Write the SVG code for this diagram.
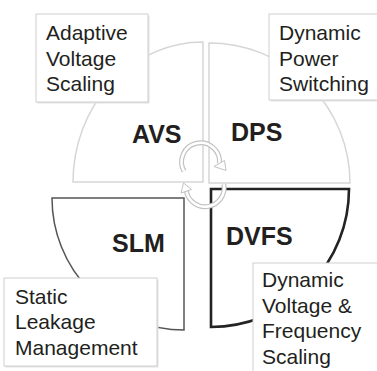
<svg xmlns="http://www.w3.org/2000/svg" width="377" height="371" viewBox="0 0 377 371">
<style>
.light{fill:#fff;stroke:#d6d6d6;stroke-width:1.5}
.slm{fill:#fff;stroke:#555;stroke-width:1.5}
.dvfs{fill:#fff;stroke:#232323;stroke-width:2.6}
.lbl{font-family:"Liberation Sans",Arial,sans-serif;font-weight:bold;font-size:25px;fill:#231f20}
.txt{font-family:"Liberation Sans",Arial,sans-serif;font-size:21px;fill:#231f20}
.box{fill:#fff;stroke:#cfcfcf;stroke-width:1}
.shadow{fill:#e2e2e2}
.band-o{fill:none;stroke:#c2c2c2;stroke-width:5}
.band-i{fill:none;stroke:#fff;stroke-width:2.6}
.head{fill:#fff;stroke:#c2c2c2;stroke-width:1}
</style>
<rect width="377" height="371" fill="#fff"/>
<g id="node-avs">
<path class="light" d="M203,182 L73,182 A130,140 0 0 1 203,42 Z"/>
<text class="lbl" x="132" y="143">AVS</text>
</g>
<g id="node-dps">
<path class="light" d="M209,183 L209,43 A141,140 0 0 1 350,183 Z"/>
<text class="lbl" x="231" y="141">DPS</text>
</g>
<g id="node-slm">
<path class="slm" d="M184,198 L52,198 A132,132 0 0 0 184,330 Z"/>
<text class="lbl" x="112" y="252">SLM</text>
</g>
<g id="node-dvfs">
<path class="dvfs" d="M211,189 L349,189 A138,138 0 0 1 211,327 Z"/>
<text class="lbl" x="226" y="245">DVFS</text>
</g>
<g id="connectors">
<path class="band-o" d="M184.1,171.3 A19,19 0 1 1 219.5,163.5"/>
<path class="band-i" d="M184.1,171.3 A19,19 0 1 1 219.5,163.5"/>
<polygon class="head" points="214,166.5 224.5,160.5 226,170.5"/>
<path class="band-o" d="M223.9,184.3 A19,19 0 1 1 186.3,190.9"/>
<path class="band-i" d="M223.9,184.3 A19,19 0 1 1 186.3,190.9"/>
<polygon class="head" points="181,193 191.5,189.5 183.5,183"/>
</g>
<g id="box-avs">
<rect class="shadow" x="37.5" y="15.5" width="112" height="88"/>
<rect class="box" x="36" y="14" width="112" height="88"/>
<text class="txt" x="46" y="40">Adaptive</text>
<text class="txt" x="46" y="65.5">Voltage</text>
<text class="txt" x="46" y="91">Scaling</text>
</g>
<g id="box-dps">
<rect class="shadow" x="270.5" y="15.5" width="120" height="86"/>
<rect class="box" x="269" y="14" width="120" height="86"/>
<text class="txt" x="279" y="40">Dynamic</text>
<text class="txt" x="279" y="65.5">Power</text>
<text class="txt" x="279" y="91">Switching</text>
</g>
<g id="box-slm">
<rect class="shadow" x="5.5" y="279.5" width="153" height="88"/>
<rect class="box" x="4" y="278" width="153" height="88"/>
<text class="txt" x="15" y="303.5">Static</text>
<text class="txt" x="15" y="329">Leakage</text>
<text class="txt" x="15" y="354.5">Management</text>
</g>
<g id="box-dvfs">
<rect class="shadow" x="254.5" y="264.5" width="130" height="120"/>
<rect class="box" x="253" y="263" width="130" height="120"/>
<text class="txt" x="262" y="287">Dynamic</text>
<text class="txt" x="262" y="312.5">Voltage &amp;</text>
<text class="txt" x="262" y="338">Frequency</text>
<text class="txt" x="262" y="363.5">Scaling</text>
</g>
</svg>
